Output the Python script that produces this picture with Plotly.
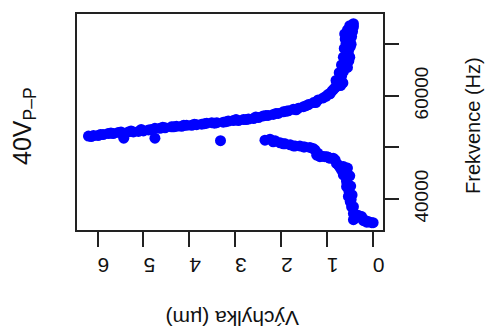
import plotly.graph_objects as go

# Upper branch: deflection (µm) vs. frequency (Hz)
upper_defl = [6.20, 6.09, 5.99, 5.88, 5.77, 5.66, 5.55, 5.43, 5.33, 5.22, 5.11, 5.00,
              4.89, 4.75, 4.75, 4.64, 4.53, 4.39, 4.28, 4.17, 4.06, 3.95, 3.84, 3.73,
              3.62, 3.51, 3.40, 3.26, 3.15, 3.04, 2.93, 2.82, 2.71, 2.60, 2.49, 2.39,
              2.28, 2.17, 2.06, 1.95, 1.84, 1.73, 1.62, 1.51, 1.40, 1.29, 1.19, 1.08,
              0.97, 0.89, 0.82, 0.75, 0.71, 0.68, 0.64, 0.60, 0.57, 0.53, 0.53, 0.49,
              0.49, 0.46, 0.46, 0.42, 0.42,
              0.60, 0.62, 0.64, 0.68, 0.73, 0.80, 0.55, 0.50,
              0.65, 0.55, 0.50, 0.47, 0.44,
              6.14, 5.94, 5.71, 5.49, 5.27, 5.05, 4.83, 4.58, 4.34, 4.12, 3.89, 3.67,
              3.45, 3.20, 2.98, 2.76, 2.55, 2.33, 2.11, 1.89, 1.67, 1.45, 1.24, 1.02,
              0.93, 0.86, 0.78,
              0.58, 0.56, 0.61, 0.52, 0.70]
upper_freq = [52200, 52300, 52300, 52500, 52700, 52700, 52900, 51800, 53000, 53000, 53100, 53200,
              53400, 51800, 53700, 53700, 53800, 54000, 54100, 54100, 54300, 54300, 54400, 54500,
              54700, 54800, 54800, 54900, 55100, 55200, 55200, 55400, 55500, 55600, 55800, 56100,
              56200, 56400, 56600, 56900, 57100, 57400, 57600, 57900, 58300, 58700, 59200, 59600,
              60300, 60900, 61600, 62400, 63100, 63800, 64700, 65600, 66600, 67600, 68600, 69500,
              70500, 71500, 72400, 73400, 74000,
              71000, 69200, 67500, 66000, 64500, 63000, 72800, 73600,
              62500, 65500, 67500, 70000, 72500,
              52100, 52500, 52800, 53000, 53200, 53500, 53500, 53900, 54000, 54300, 54500, 54600,
              54700, 55000, 55400, 55400, 55900, 56200, 56600, 57000, 57300, 58100, 58700, 59900,
              60400, 61200, 61900,
              70200, 68100, 72000, 66800, 62000]

# Lower branch
lower_defl = [2.35, 2.24, 2.17, 2.13, 2.02, 1.95, 1.91, 1.80, 1.73, 1.69, 1.59, 1.51,
              1.48, 1.37, 1.30, 1.26, 1.22, 1.15, 1.04, 1.00, 0.93, 0.86, 0.82, 0.79,
              0.75, 0.68, 0.64, 0.64, 0.60, 0.57, 0.57, 0.53, 0.50, 0.49, 0.46, 0.42,
              0.42, 0.35, 0.28, 0.24, 0.17, 0.10, 0.09, 0.02, -0.01, 0.42,
              0.50, 0.48, 0.45, 0.55,
              1.20, 1.10, 0.97, 0.72, 0.62, 0.58, 0.52, 0.47, 0.38, 0.31, 0.20, 0.13]
lower_freq = [51400, 51600, 51100, 51300, 50900, 50700, 50700, 50500, 50300, 50300, 50300, 50100,
              50100, 50000, 49800, 49500, 48500, 48200, 48200, 48200, 47900, 47900, 47600, 46900,
              46600, 45600, 46300, 44700, 45000, 43400, 42400, 40500, 40800, 39500, 38500, 37200,
              38500, 36900, 36600, 36600, 35900, 35600, 35600, 35400, 35400, 36000,
              44500, 42500, 40800, 46000,
              48900, 48300, 48100, 46200, 45300, 44000, 41600, 39900, 36300, 36800, 35800, 35500]

# Isolated reading between the branches
single_defl = [3.32]
single_freq = [51300]

x_ticks = [0, 1, 2, 3, 4, 5, 6]
y_major = [40000, 60000]
y_minor = [50000, 70000]

FONT = "Liberation Sans, Arial, sans-serif"
BLUE = "#0000ff"

fig = go.Figure()
for xs, ys in [(upper_defl, upper_freq), (lower_defl, lower_freq), (single_defl, single_freq)]:
    fig.add_trace(go.Scatter(
        x=xs, y=ys, mode="markers",
        marker=dict(color=BLUE, size=11, line=dict(width=0)),
        showlegend=False, hoverinfo="skip",
    ))

# plot area: x 77..383 px, y 14..230 px
L, R, T, B = 77, 383, 14, 230
W, H = 487, 332


def px(xp, yp):
    return (xp - L) / (R - L), (B - yp) / (B - T)


fig.update_layout(
    width=W, height=H,
    margin=dict(l=L, r=W - R, t=T, b=H - B, pad=0),
    paper_bgcolor="white", plot_bgcolor="white",
    font=dict(family=FONT, color="#111111"),
    xaxis=dict(
        range=[6.45, -0.225], tickvals=x_ticks, ticktext=[str(v) for v in x_ticks],
        ticks="outside", ticklen=15, tickwidth=2, tickcolor="#222",
        tickangle=180, tickfont=dict(size=21, family=FONT, color="#111"),
        ticklabelstandoff=7,
        showline=True, mirror=True, linecolor="#222", linewidth=2,
        showgrid=False, zeroline=False,
    ),
    yaxis=dict(
        side="right", range=[33990, 75870], tickvals=y_major,
        ticktext=[str(v) for v in y_major],
        ticks="outside", ticklen=14, tickwidth=2, tickcolor="#222",
        tickangle=-90, tickfont=dict(size=19, family=FONT, color="#111"),
        ticklabelstandoff=6,
        minor=dict(tickvals=y_minor, ticks="outside", ticklen=14, tickwidth=2,
                   tickcolor="#222", showgrid=False),
        showline=True, mirror=True, linecolor="#222", linewidth=2,
        showgrid=False, zeroline=False,
    ),
)

annots = [
    dict(text="Frekvence (Hz)", pos=(473, 126), angle=-90, size=20),
    dict(text="Výchylka (µm)", pos=(233, 319), angle=180, size=21),
    dict(text="40V<sub>P–P</sub>", pos=(24, 126), angle=-90, size=25),
]
for a in annots:
    ax, ay = px(*a["pos"])
    fig.add_annotation(
        text=a["text"], x=ax, y=ay, xref="paper", yref="paper",
        xanchor="center", yanchor="middle", showarrow=False,
        textangle=a["angle"], font=dict(size=a["size"], family=FONT, color="#111"),
    )

fig.write_html("out.html")
